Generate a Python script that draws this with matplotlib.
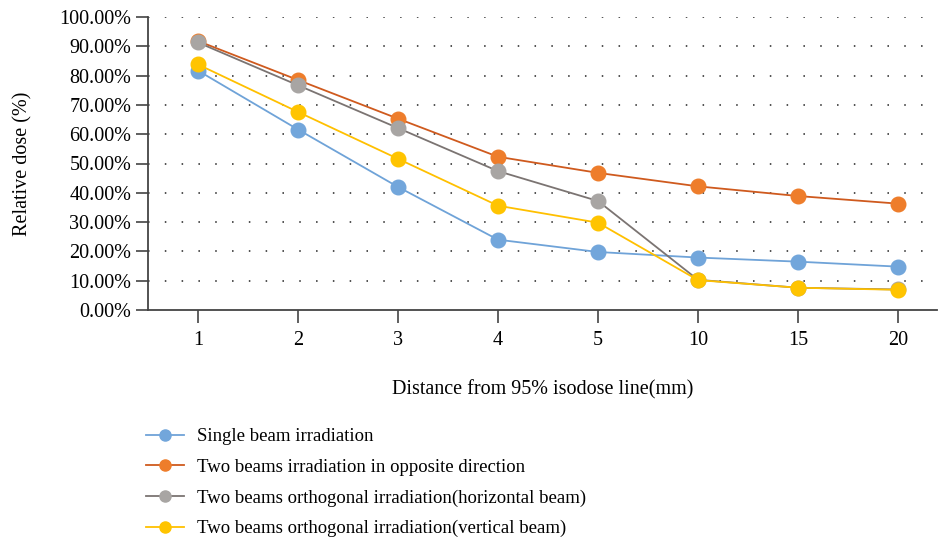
import numpy as np
import matplotlib
matplotlib.use("Agg")
import matplotlib.pyplot as plt
from matplotlib.ticker import PercentFormatter

plt.rcParams['font.family'] = ['Liberation Serif', 'DejaVu Serif']

# distances from the 95% isodose line (mm), plotted as categories
distances = ['1', '2', '3', '4', '5', '10', '15', '20']

single_beam = [81.7, 61.6, 42.0, 24.0, 19.8, 17.9, 16.5, 14.8]
opposite = [91.8, 78.5, 65.3, 52.3, 46.8, 42.2, 38.9, 36.3]
ortho_horizontal = [91.3, 76.7, 62.1, 47.4, 37.2, 10.3, 7.6, 7.0]
ortho_vertical = [83.8, 67.6, 51.6, 35.6, 29.8, 10.2, 7.6, 6.9]

labels = ['Single beam irradiation',
          'Two beams irradiation in opposite direction',
          'Two beams orthogonal irradiation(horizontal beam)',
          'Two beams orthogonal irradiation(vertical beam)']
line_colors = ['#6fa3d8', '#cf5a1e', '#7b7472', '#ffc000']
marker_colors = ['#72a6db', '#ee7d2b', '#a8a5a3', '#ffc400']

fig = plt.figure(figsize=(9.38, 5.41), dpi=100)
ax = fig.add_axes([148 / 938, 1 - 310 / 541, (937 - 148) / 938, (310 - 17) / 541])

x = np.arange(len(distances))
series = [single_beam, opposite, ortho_horizontal, ortho_vertical]
for vals, lab, lc, mc in zip(series, labels, line_colors, marker_colors):
    ax.plot(x, vals, color=lc, lw=1.3, marker='o', ms=10.5,
            markerfacecolor=mc, markeredgecolor=mc, label=lab)

ax.set_ylim(0, 100)
ax.set_xlim(-0.5, 7.39)
ax.set_yticks(np.arange(0, 101, 10))
ax.yaxis.set_major_formatter(PercentFormatter(decimals=2))
ax.set_xticks(x)
ax.set_xticklabels(distances)

# dotted horizontal grid
for yv in np.arange(10, 101, 10):
    ax.axhline(yv, color='#222222', lw=1.1, ls=(0, (1, 10)), zorder=0)

for s in ['top', 'right']:
    ax.spines[s].set_visible(False)
ax.spines['left'].set_color('#444444')
ax.spines['bottom'].set_color('#444444')
ax.spines['left'].set_linewidth(1.3)
ax.spines['bottom'].set_linewidth(1.3)
ax.tick_params(axis='y', length=9, width=1.2, color='#444444', labelsize=14.5, pad=3)
ax.tick_params(axis='x', length=9, width=1.2, color='#444444', labelsize=14.5, pad=6)

ax.set_ylabel('Relative dose (%)', fontsize=14.5, labelpad=19)
ax.set_xlabel('Distance from 95% isodose line(mm)', fontsize=14.5, labelpad=22)

leg_handles = []
for lab, lc, mc in zip(labels, line_colors, marker_colors):
    leg_handles.append(plt.Line2D([], [], color=lc, lw=1.3, marker='o', ms=8,
                                  markerfacecolor=mc, markeredgecolor=mc, label=lab))
fig.legend(handles=leg_handles, loc='upper left', bbox_to_anchor=(146 / 938, 1 - 428 / 541),
           frameon=False, fontsize=13.5, handlelength=2.0, handletextpad=0.7,
           labelspacing=0.72, borderaxespad=0, borderpad=0)

fig.savefig('out.png', dpi=100)
